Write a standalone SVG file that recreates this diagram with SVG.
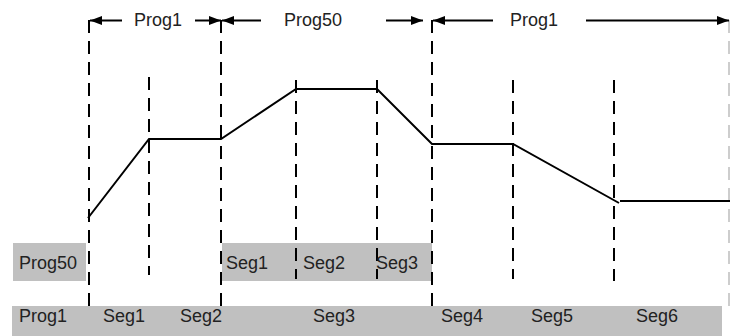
<svg xmlns="http://www.w3.org/2000/svg" width="730" height="336" viewBox="0 0 730 336">
<style>
.box{fill:#c0c0c0;stroke:none}
.dash{stroke:#000;stroke-width:2;stroke-dasharray:13 8;fill:none}
.dashl{stroke:#bdbdbd;stroke-width:1.5;stroke-dasharray:13 8;fill:none}
.arr{stroke:#000;stroke-width:2;fill:none;marker-end:url(#ah)}
.prof{stroke:#000;stroke-width:2;fill:none;stroke-linejoin:miter}
text{font-family:"Liberation Sans",Arial,sans-serif;font-size:18px;fill:#222}
</style>
<defs>
<marker id="ah" viewBox="0 0 12 9" refX="12" refY="4.5" markerWidth="12" markerHeight="9" markerUnits="userSpaceOnUse" orient="auto">
<path d="M0,0 L12,4.5 L0,9 Z" fill="#000"/>
</marker>
</defs>
<rect width="730" height="336" fill="#fff"/>
<g id="bands">
<rect class="box" x="13" y="243" width="73" height="38"/>
<rect class="box" x="222" y="243" width="210" height="38"/>
<rect class="box" x="12" y="306" width="710" height="30"/>
</g>
<g id="connectors">
<line class="dash" x1="89" y1="20" x2="89" y2="310"/>
<line class="dash" x1="149" y1="77" x2="149" y2="275"/>
<line class="dash" x1="221" y1="20" x2="221" y2="310"/>
<line class="dash" x1="296" y1="80" x2="296" y2="279"/>
<line class="dash" x1="377" y1="80" x2="377" y2="279"/>
<line class="dash" x1="432" y1="20" x2="432" y2="310"/>
<line class="dash" x1="513" y1="80" x2="513" y2="279"/>
<line class="dash" x1="614" y1="80" x2="614" y2="281"/>
<line class="dashl" x1="729" y1="20" x2="729" y2="310"/>
<line class="arr" x1="122" y1="20.5" x2="90" y2="20.5"/>
<line class="arr" x1="195" y1="20.5" x2="221" y2="20.5"/>
<line class="arr" x1="261" y1="20.5" x2="222" y2="20.5"/>
<line class="arr" x1="386" y1="20.5" x2="423" y2="20.5"/>
<line class="arr" x1="493" y1="20.5" x2="433" y2="20.5"/>
<line class="arr" x1="586" y1="20.5" x2="729" y2="20.5"/>
<polyline class="prof" points="88,218 149,139 221,139 296,89 377,89 432,144 513,144 619,203"/>
<line class="prof" x1="620" y1="201" x2="730" y2="201"/>
</g>
<g id="labels">
<text x="134" y="26">Prog1</text>
<text x="284" y="26">Prog50</text>
<text x="510" y="26">Prog1</text>
<text x="19" y="269">Prog50</text>
<text x="226" y="269">Seg1</text>
<text x="303" y="269">Seg2</text>
<text x="376" y="269">Seg3</text>
<text x="19" y="322">Prog1</text>
<text x="103" y="322">Seg1</text>
<text x="180" y="322">Seg2</text>
<text x="313" y="322">Seg3</text>
<text x="441" y="322">Seg4</text>
<text x="531" y="322">Seg5</text>
<text x="636" y="322">Seg6</text>
</g>
</svg>
